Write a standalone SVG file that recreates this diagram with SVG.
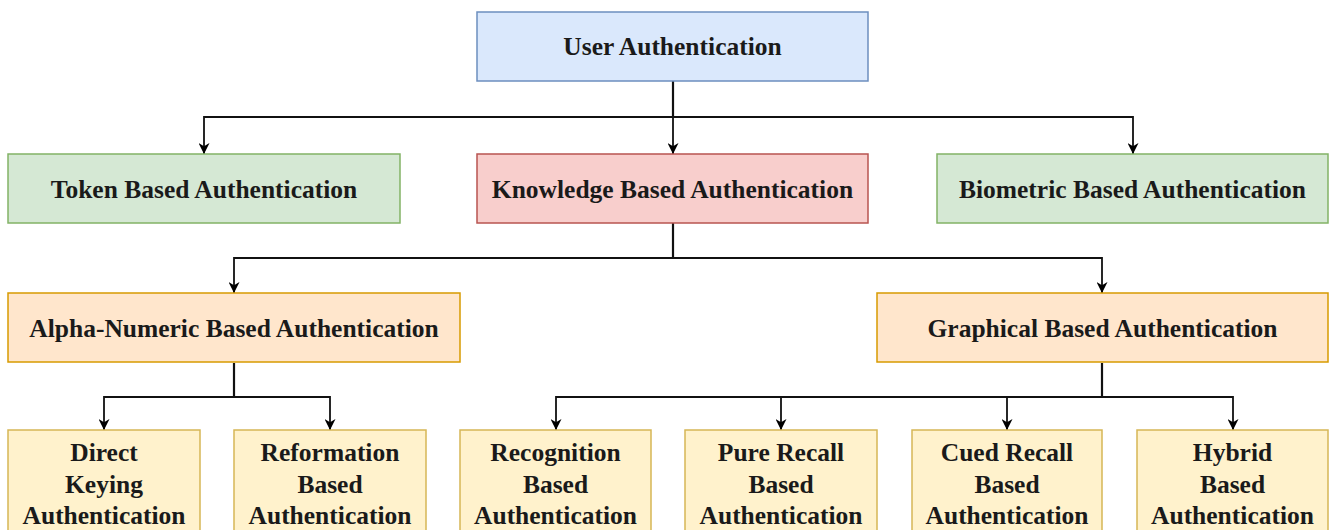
<svg xmlns="http://www.w3.org/2000/svg" width="1329" height="530" viewBox="0 0 1329 530">
<style>
  text { font-family: 'Liberation Serif', Tinos, 'Times New Roman', Times, 'Noto Serif', 'DejaVu Serif', FreeSerif, serif; }
  .t { font-weight: bold; font-size: 25.5px; fill: #1a1a1a; text-anchor: middle; }
  .blue { fill: #dae8fc; stroke: #6c8ebf; stroke-width: 1.5; }
  .green { fill: #d5e8d4; stroke: #82b366; stroke-width: 1.5; }
  .red { fill: #f8cecc; stroke: #b85450; stroke-width: 1.5; }
  .orange { fill: #ffe6cc; stroke: #d79b00; stroke-width: 1.5; }
  .yellow { fill: #fff2cc; stroke: #d6b656; stroke-width: 1.5; }
  .edge { fill: none; stroke: #111; stroke-width: 1.8; marker-end: url(#arr); }
  .trunk { fill: none; stroke: #111; stroke-width: 2.2; }
</style>
<defs>
  <marker id="arr" viewBox="0 0 10 10" refX="10" refY="5" markerWidth="11" markerHeight="11" markerUnits="userSpaceOnUse" orient="auto">
    <path d="M0,0 L10,5 L0,10 L3,5 Z" fill="#000"/>
  </marker>
</defs>
<rect width="1329" height="530" fill="#ffffff"/>
<g id="connectors">
  <path class="trunk" d="M673,81 V117"/>
  <path class="edge" d="M673,117 H204 V154"/>
  <path class="edge" d="M673,117 V154"/>
  <path class="edge" d="M673,117 H1133 V154"/>
  <path class="trunk" d="M673,223 V258"/>
  <path class="edge" d="M673,258 H234 V293"/>
  <path class="edge" d="M673,258 H1102 V293"/>
  <path class="trunk" d="M234,363 V397"/>
  <path class="edge" d="M234,397 H104 V430"/>
  <path class="edge" d="M234,397 H330 V430"/>
  <path class="trunk" d="M1102,363 V397"/>
  <path class="edge" d="M1102,397 H556 V430"/>
  <path class="edge" d="M1102,397 H781 V430"/>
  <path class="edge" d="M1102,397 H1007 V430"/>
  <path class="edge" d="M1102,397 H1233 V430"/>
</g>
<g id="user-auth">
  <rect class="blue" x="477" y="12" width="391" height="69"/>
  <text class="t" x="672.5" y="55" font-family="Liberation Serif, serif">User Authentication</text>
</g>
<g id="token">
  <rect class="green" x="8" y="154" width="392" height="69"/>
  <text class="t" x="204" y="198">Token Based Authentication</text>
</g>
<g id="knowledge">
  <rect class="red" x="477" y="154" width="391" height="69"/>
  <text class="t" x="672.5" y="198">Knowledge Based Authentication</text>
</g>
<g id="biometric">
  <rect class="green" x="937" y="154" width="391" height="69"/>
  <text class="t" x="1132.5" y="198">Biometric Based Authentication</text>
</g>
<g id="alphanumeric">
  <rect class="orange" x="8" y="293" width="452" height="69"/>
  <text class="t" x="234" y="337">Alpha-Numeric Based Authentication</text>
</g>
<g id="graphical">
  <rect class="orange" x="877" y="293" width="451" height="69"/>
  <text class="t" x="1102.5" y="337">Graphical Based Authentication</text>
</g>
<g id="direct">
  <rect class="yellow" x="8" y="430" width="192" height="115"/>
  <text class="t" x="104" y="461">Direct</text>
  <text class="t" x="104" y="492.5">Keying</text>
  <text class="t" x="104" y="523.5">Authentication</text>
</g>
<g id="reformation">
  <rect class="yellow" x="234" y="430" width="192" height="115"/>
  <text class="t" x="330" y="461">Reformation</text>
  <text class="t" x="330" y="492.5">Based</text>
  <text class="t" x="330" y="523.5">Authentication</text>
</g>
<g id="recognition">
  <rect class="yellow" x="460" y="430" width="191" height="115"/>
  <text class="t" x="555.5" y="461">Recognition</text>
  <text class="t" x="555.5" y="492.5">Based</text>
  <text class="t" x="555.5" y="523.5">Authentication</text>
</g>
<g id="pure-recall">
  <rect class="yellow" x="685" y="430" width="192" height="115"/>
  <text class="t" x="781" y="461">Pure Recall</text>
  <text class="t" x="781" y="492.5">Based</text>
  <text class="t" x="781" y="523.5">Authentication</text>
</g>
<g id="cued-recall">
  <rect class="yellow" x="912" y="430" width="190" height="115"/>
  <text class="t" x="1007" y="461">Cued Recall</text>
  <text class="t" x="1007" y="492.5">Based</text>
  <text class="t" x="1007" y="523.5">Authentication</text>
</g>
<g id="hybrid">
  <rect class="yellow" x="1137" y="430" width="191" height="115"/>
  <text class="t" x="1232.5" y="461">Hybrid</text>
  <text class="t" x="1232.5" y="492.5">Based</text>
  <text class="t" x="1232.5" y="523.5">Authentication</text>
</g>
</svg>
